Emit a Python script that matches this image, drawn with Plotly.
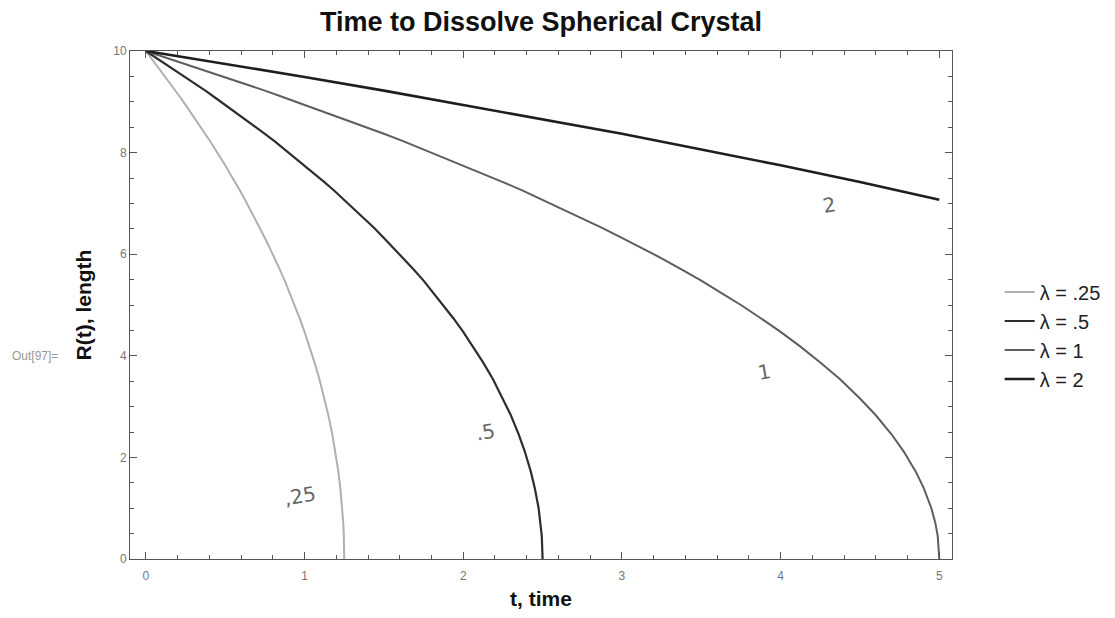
import plotly.graph_objects as go

# Values
labels = ["λ = .25", "λ = .5", "λ = 1", "λ = 2"]

r_common = [10.00, 9.87, 9.75, 9.62, 9.49, 9.35, 9.22, 9.08, 8.94, 8.80, 8.66, 8.51, 8.37,
            8.22, 8.06, 7.91, 7.75, 7.58, 7.42, 7.25, 7.07, 6.89, 6.71, 6.52, 6.32, 6.12,
            5.92, 5.70, 5.48, 5.24, 5.00, 4.74, 4.47, 4.18, 3.87, 3.54, 3.16,
            2.83, 2.45, 2.12, 1.73, 1.41, 1.00, 0.71, 0.45, 0.0]

t_025 = [0, 0.03125, 0.0625, 0.09375, 0.125, 0.15625, 0.1875, 0.21875, 0.25, 0.28125, 0.3125,
         0.34375, 0.375, 0.40625, 0.4375, 0.46875, 0.5, 0.53125, 0.5625, 0.59375, 0.625,
         0.65625, 0.6875, 0.71875, 0.75, 0.78125, 0.8125, 0.84375, 0.875, 0.90625, 0.9375,
         0.96875, 1.0, 1.03125, 1.0625, 1.09375, 1.125,
         1.15, 1.175, 1.19375, 1.2125, 1.225, 1.2375, 1.24375, 1.2475, 1.25]
r_025 = list(r_common)

t_05 = [0, 0.0625, 0.125, 0.1875, 0.25, 0.3125, 0.375, 0.4375, 0.5, 0.5625, 0.625, 0.6875,
        0.75, 0.8125, 0.875, 0.9375, 1.0, 1.0625, 1.125, 1.1875, 1.25, 1.3125, 1.375, 1.4375,
        1.5, 1.5625, 1.625, 1.6875, 1.75, 1.8125, 1.875, 1.9375, 2.0, 2.0625, 2.125, 2.1875, 2.25,
        2.3, 2.35, 2.3875, 2.425, 2.45, 2.475, 2.4875, 2.495, 2.5]
r_05 = list(r_common)

t_1 = [0, 0.125, 0.25, 0.375, 0.5, 0.625, 0.75, 0.875, 1.0, 1.125, 1.25, 1.375, 1.5, 1.625,
       1.75, 1.875, 2.0, 2.125, 2.25, 2.375, 2.5, 2.625, 2.75, 2.875, 3.0, 3.125, 3.25, 3.375,
       3.5, 3.625, 3.75, 3.875, 4.0, 4.125, 4.25, 4.375, 4.5,
       4.6, 4.7, 4.775, 4.85, 4.9, 4.95, 4.975, 4.99, 5.0]
r_1 = list(r_common)

t_2 = [0, 0.5, 1.0, 1.5, 2.0, 2.5, 3.0, 3.5, 4.0, 4.5, 5.0]
r_2 = [10, 9.75, 9.49, 9.22, 8.94, 8.66, 8.37, 8.06, 7.75, 7.42, 7.07]

series = [
    (t_025, r_025, "#b0b0b0", 2),
    (t_05, r_05, "#2e2e2e", 2.2),
    (t_1, r_1, "#5e5e5e", 2),
    (t_2, r_2, "#1e1e1e", 2.6),
]

fig = go.Figure()
for (tx, ry, col, w), lab in zip(series, labels):
    fig.add_trace(go.Scatter(x=tx, y=ry, mode="lines", name=lab,
                             line=dict(color=col, width=w, shape="linear")))

axis_common = dict(
    showgrid=False, zeroline=False, showline=True, linecolor="#555555", linewidth=1,
    mirror="ticks", ticks="inside", ticklen=7, tickcolor="#555555", automargin=False,
    tickfont=dict(family="Liberation Sans, Arial", size=12, color="#777777"),
)

# the page body adds an 8px offset, so the figure is 8px smaller
W, H = 1107, 610
fig.update_layout(
    width=W, height=H,
    margin=dict(l=122, r=W - 122 - 822, t=43, b=H - 43 - 508, autoexpand=False),
    paper_bgcolor="white", plot_bgcolor="white",
    title=dict(text="<b>Time to Dissolve Spherical Crystal</b>", x=533 / W,
               xanchor="center", y=1 - 14 / H, yanchor="middle",
               font=dict(family="Liberation Sans, Arial", size=27, color="#111111")),
    xaxis=dict(range=[-0.1, 5.08], dtick=1, tick0=0, ticklabelstandoff=6,
               minor=dict(dtick=0.2, ticks="inside", ticklen=4, tickcolor="#555555"),
               title=dict(text="<b>t, time</b>", standoff=8,
                          font=dict(family="Liberation Sans, Arial", size=21, color="#111111")),
               **axis_common),
    yaxis=dict(range=[0, 10], dtick=2, tick0=0,
               minor=dict(dtick=0.5, ticks="inside", ticklen=4, tickcolor="#555555"),
               title=dict(text="<b>R(t), length</b>", standoff=15,
                          font=dict(family="Liberation Sans, Arial", size=21, color="#111111")),
               **axis_common),
    legend=dict(x=1.058, y=0.44, xanchor="left", yanchor="middle", bgcolor="rgba(0,0,0,0)",
                font=dict(family="Liberation Sans, Arial", size=20, color="#222222"),
                itemwidth=30, tracegroupgap=0),
    showlegend=True,
)

hand = dict(family="DejaVu Sans", size=20, color="#666666")
notes = [("2", 4.31, 6.97), ("1", 3.9, 3.68), (".5", 2.14, 2.5), (",25", 0.97, 1.24)]
for txt, ax, ay in notes:
    fig.add_annotation(x=ax, y=ay, text=txt, showarrow=False, font=hand, textangle=-10)

fig.add_annotation(xref="paper", yref="paper", x=-0.146, y=0.40, xanchor="left", yanchor="middle",
                   text="Out[97]=", showarrow=False,
                   font=dict(family="Liberation Sans, Arial", size=12, color="#999999"))

fig.write_html("out.html")
